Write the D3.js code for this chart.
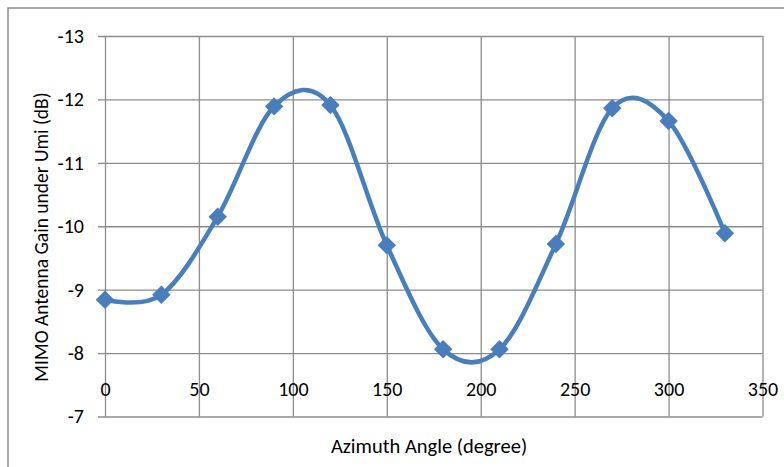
<!DOCTYPE html>
<html>
<head>
<meta charset="utf-8">
<script src="https://cdn.jsdelivr.net/npm/d3@7"></script>
<style>
  html, body { margin: 0; padding: 0; background: #fff; }
  svg { display: block; }
  text { font-family: Carlito, Lato, "Open Sans", sans-serif; fill: #000; }
</style>
</head>
<body>
<svg id="chart" width="784" height="467"></svg>
<script>
// Azimuth angle (degree) and MIMO antenna gain under UMi (dB)
const angles = [0, 30, 60, 90, 120, 150, 180, 210, 240, 270, 300, 330];
const gains  = [-8.84, -8.92, -10.15, -11.89, -11.91, -9.70, -8.06, -8.06, -9.72, -11.86, -11.66, -9.89];

const xTicks = [0, 50, 100, 150, 200, 250, 300, 350];
const yTicks = [-13, -12, -11, -10, -9, -8, -7];

const xTitle = "Azimuth Angle (degree)";
const yTitle = "MIMO Antenna Gain under Umi (dB)";

const svg = d3.select("#chart");
const W = 784, H = 467;

const plot = { left: 105, right: 762.5, top: 36, bottom: 416.5 };

const x = d3.scaleLinear().domain([0, 350]).range([plot.left, plot.right]);
// gain axis runs reversed: -13 at the top, -7 at the bottom
const y = d3.scaleLinear().domain([-13, -7]).range([plot.top, plot.bottom]);

const gridColor = "#8c8c8c";

// outer chart frame
svg.append("rect")
  .attr("x", 8).attr("y", 8)
  .attr("width", W + 20).attr("height", H + 20)
  .attr("fill", "#fff")
  .attr("stroke", "#8a8a8a")
  .attr("stroke-width", 1.5);

// horizontal gridlines, extended left as tick marks
const yGrid = svg.append("g")
  .attr("transform", `translate(${plot.left - 7},0)`)
  .call(d3.axisLeft(y).tickValues(yTicks).tickSize(-(plot.right - plot.left + 7)).tickFormat(""));
yGrid.select(".domain").remove();
yGrid.selectAll("line").attr("stroke", gridColor).attr("stroke-width", 1.3);

// vertical gridlines
const xGrid = svg.append("g")
  .attr("transform", `translate(0,${plot.bottom})`)
  .call(d3.axisBottom(x).tickValues(xTicks).tickSize(-(plot.bottom - plot.top)).tickFormat(""));
xGrid.select(".domain").remove();
xGrid.selectAll("line").attr("stroke", gridColor).attr("stroke-width", 1.3);

// y tick labels
const yAxis = svg.append("g")
  .attr("transform", `translate(${plot.left},0)`)
  .call(d3.axisLeft(y).tickValues(yTicks).tickSize(0).tickPadding(21).tickFormat(d3.format("d")));
yAxis.select(".domain").remove();
yAxis.selectAll("text")
  .attr("font-family", null)
  .attr("font-size", null)
  .style("font-size", "20px")
  .text(d => String(d));

// x tick labels, sitting between -8 and -7
const xAxis = svg.append("g")
  .attr("transform", `translate(0,382)`)
  .call(d3.axisBottom(x).tickValues(xTicks).tickSize(0).tickPadding(0));
xAxis.select(".domain").remove();
xAxis.selectAll("text")
  .attr("font-family", null)
  .attr("font-size", null)
  .style("font-size", "20px");

// axis titles
svg.append("text")
  .attr("x", 429).attr("y", 453)
  .attr("text-anchor", "middle")
  .style("font-size", "20.5px")
  .text(xTitle);

svg.append("text")
  .attr("transform", "translate(48,237) rotate(-90)")
  .attr("text-anchor", "middle")
  .style("font-size", "19.5px")
  .text(yTitle);

// smoothed series line
const pts = angles.map((a, i) => [a, gains[i]]);
const blue = "#4a7ebb";

svg.append("path")
  .datum(pts)
  .attr("fill", "none")
  .attr("stroke", blue)
  .attr("stroke-width", 4.5)
  .attr("stroke-linejoin", "round")
  .attr("d", d3.line()
    .x(d => x(d[0]))
    .y(d => y(d[1]))
    .curve(d3.curveCardinal.tension(0)));

// diamond markers
const diamond = d3.symbol().type(d3.symbolSquare).size(170);
svg.append("g")
  .selectAll("path")
  .data(pts)
  .join("path")
  .attr("transform", d => `translate(${x(d[0])},${y(d[1])}) rotate(45)`)
  .attr("d", diamond)
  .attr("fill", blue);
</script>
</body>
</html>
